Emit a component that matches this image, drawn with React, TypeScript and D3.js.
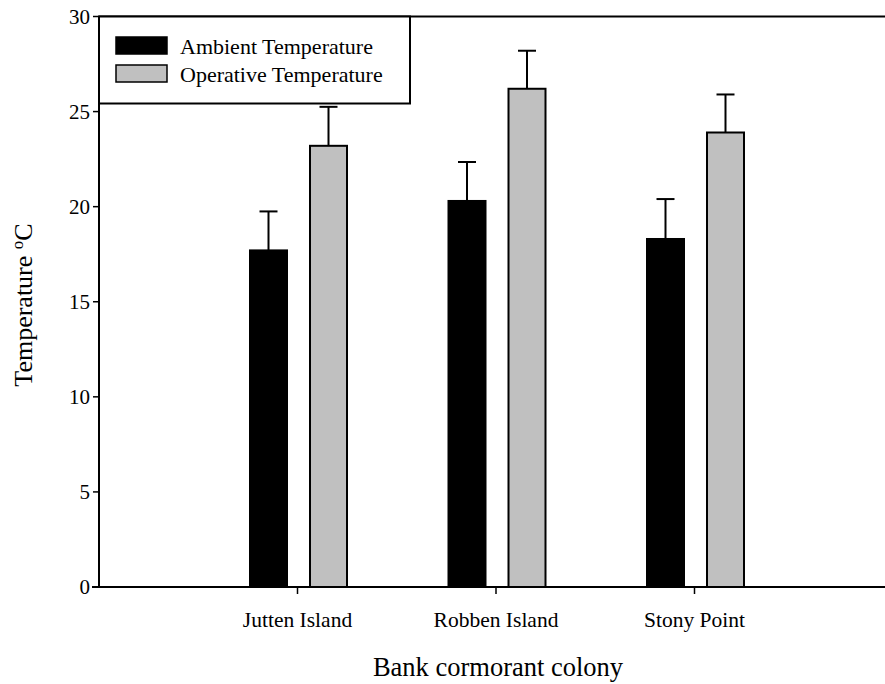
import React from "react";
import * as d3 from "d3";

const categories = ["Jutten Island", "Robben Island", "Stony Point"];
const seriesNames = ["Ambient Temperature", "Operative Temperature"];
const ambientMean = [17.7, 20.3, 18.3];
const ambientErr = [2.05, 2.05, 2.1];
const operativeMean = [23.2, 26.2, 23.9];
const operativeErr = [2.05, 2.0, 2.0];
const yTicks = [0, 5, 10, 15, 20, 25, 30];
const colors = ["#000000", "#c0c0c0"];

const W = 885;
const H = 684;
const left = 99;
const top = 16.5;
const bottom = 587;

export default function App() {
  const y = d3.scaleLinear().domain([0, 30]).range([bottom, top]);
  const x = d3.scaleLinear().domain([0, 4]).range([left, left + 4 * 198.5]);
  const barW = 37;
  const offsets = [-29, 31];
  const font = "'Liberation Serif', 'Times New Roman', serif";
  const series = [
    { mean: ambientMean, err: ambientErr },
    { mean: operativeMean, err: operativeErr },
  ];

  return (
    <svg width={W} height={H} style={{ position: "absolute", left: 0, top: 0, background: "#fff" }}>
      <rect width={W} height={H} fill="#fff" />
      {series.map((s, si) =>
        categories.map((c, ci) => {
          const cx = x(ci + 1) + offsets[si];
          const yt = y(s.mean[ci]);
          const ye = y(s.mean[ci] + s.err[ci]);
          return (
            <g key={`${si}-${ci}`}>
              <line x1={cx} x2={cx} y1={yt} y2={ye} stroke="#000" strokeWidth={2} />
              <line x1={cx - 9} x2={cx + 9} y1={ye} y2={ye} stroke="#000" strokeWidth={2} />
              <rect
                x={cx - barW / 2}
                y={yt}
                width={barW}
                height={bottom - yt}
                fill={colors[si]}
                stroke="#000"
                strokeWidth={2}
              />
            </g>
          );
        })
      )}
      <line x1={left} x2={W} y1={top} y2={top} stroke="#000" strokeWidth={2} />
      <line x1={left} x2={left} y1={top} y2={bottom} stroke="#000" strokeWidth={2} />
      <line x1={left - 7} x2={W} y1={bottom} y2={bottom} stroke="#000" strokeWidth={2} />
      {yTicks.map((t) => (
        <g key={t}>
          <line x1={left - 6} x2={left} y1={y(t)} y2={y(t)} stroke="#000" strokeWidth={1.5} />
          <text
            x={left - 9}
            y={y(t)}
            dy="0.35em"
            textAnchor="end"
            fontFamily={font}
            fontSize={21}
            fill="#000"
          >
            {t}
          </text>
        </g>
      ))}
      {categories.map((c, ci) => (
        <g key={c}>
          <line x1={x(ci + 1)} x2={x(ci + 1)} y1={bottom} y2={bottom + 7} stroke="#000" strokeWidth={1.5} />
          <text
            x={x(ci + 1)}
            y={627}
            textAnchor="middle"
            fontFamily={font}
            fontSize={21.5}
            fill="#000"
          >
            {c}
          </text>
        </g>
      ))}
      <text x={498} y={676} textAnchor="middle" fontFamily={font} fontSize={26.5} fill="#000">
        Bank cormorant colony
      </text>
      <text
        transform={`translate(32, ${305}) rotate(-90)`}
        textAnchor="middle"
        fontFamily={font}
        fontSize={26}
        fill="#000"
      >
        Temperature <tspan dy={-9} fontSize={17}>o</tspan>
        <tspan dy={9}>C</tspan>
      </text>
      <rect x={left} y={top} width={311} height={87} fill="#fff" stroke="#000" strokeWidth={2} />
      {seriesNames.map((n, i) => (
        <g key={n}>
          <rect
            x={116}
            y={37 + i * 28}
            width={51}
            height={17}
            fill={colors[i]}
            stroke="#000"
            strokeWidth={1.5}
          />
          <text x={180} y={54 + i * 28} fontFamily={font} fontSize={22} fill="#000">
            {n}
          </text>
        </g>
      ))}
    </svg>
  );
}
